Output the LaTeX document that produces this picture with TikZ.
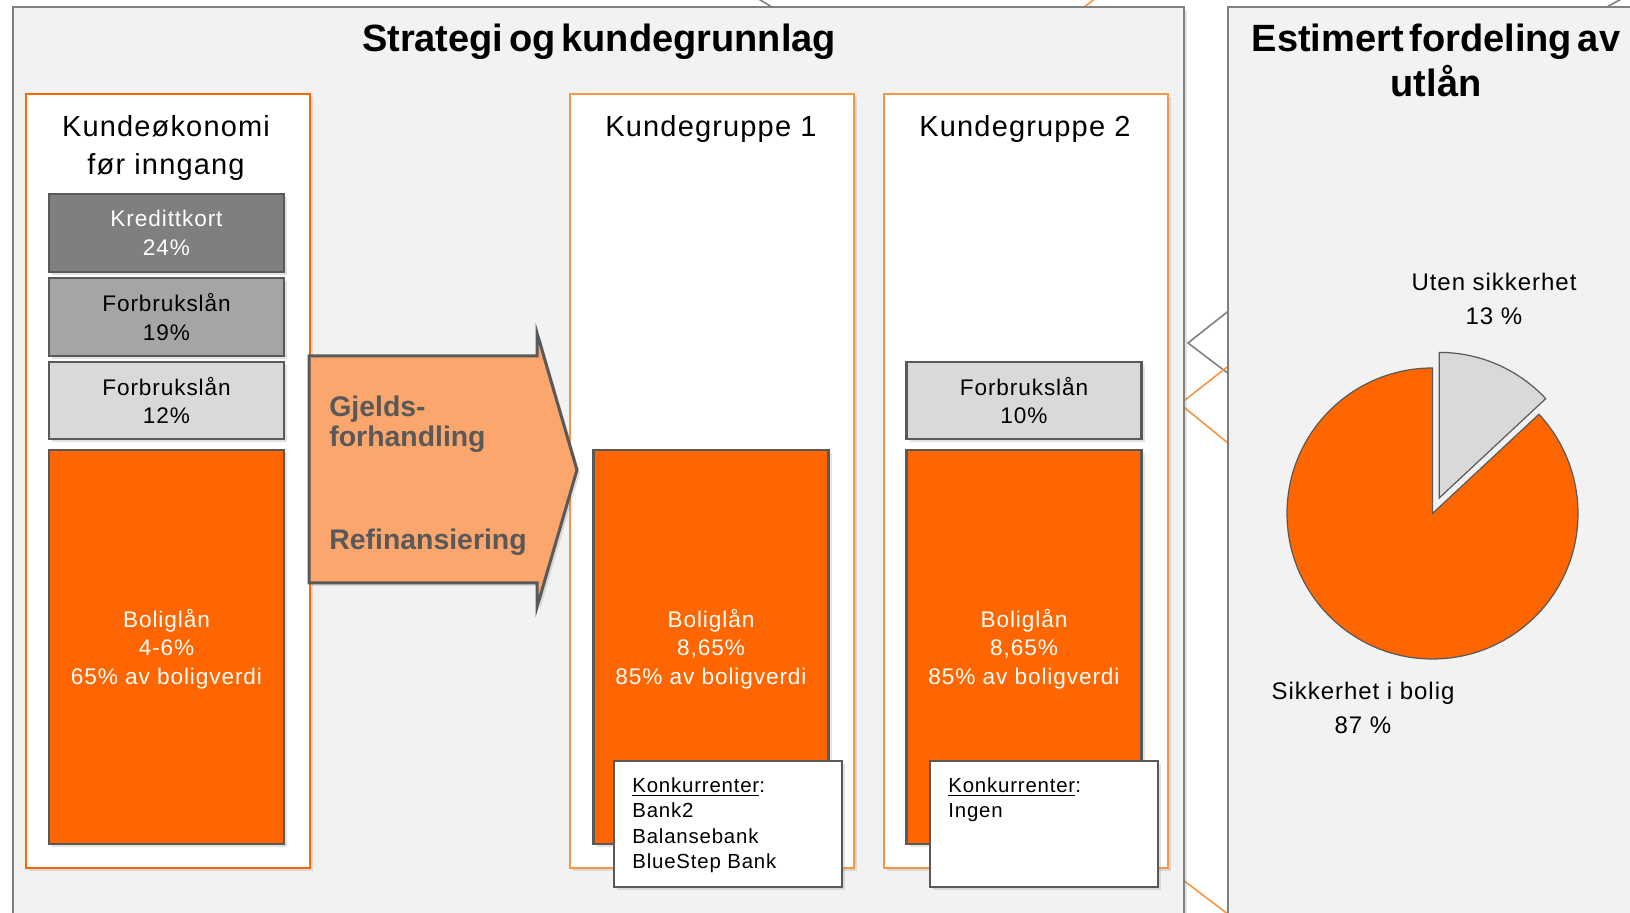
\documentclass[tikz,border=0pt]{standalone}
\usepackage{xcolor}
\usepackage{fontspec}
\setmainfont{Liberation Sans}
\newfontfamily\headfont[WordSpace=0.55]{Liberation Sans}
\newfontfamily\widefont[LetterSpace=4]{Liberation Sans}
\usepackage{tikz}
\usetikzlibrary{shadows}

\definecolor{panelfill}{HTML}{F2F2F2}
\definecolor{panelline}{HTML}{808080}
\definecolor{darkline}{HTML}{595959}
\definecolor{loanorange}{HTML}{FF6600}
\definecolor{lightorange}{HTML}{F79646}
\definecolor{arrowfill}{HTML}{FBA66C}
\definecolor{kortgray}{HTML}{7F7F7F}
\definecolor{midgray}{HTML}{A5A5A5}
\definecolor{palegray}{HTML}{D9D9D9}

\tikzset{
  softshadow/.style={drop shadow={shadow xshift=1.5pt,shadow yshift=-1.5pt,opacity=0.22}},
  panel/.style={draw=panelline,line width=1pt,fill=panelfill,softshadow},
  colbox/.style={draw=lightorange,line width=1pt,fill=white,minimum width=142pt,minimum height=387pt,inner sep=0pt,softshadow},
  loanbox/.style={draw=darkline,line width=1.1pt,minimum width=117.5pt,inner sep=0pt,align=center,font=\widefont\fontsize{11.3}{14.2}\selectfont,softshadow},
  konkbox/.style={draw=darkline,line width=1pt,fill=white,minimum width=114pt,minimum height=63pt,inner sep=0pt,softshadow},
  konktext/.style={anchor=north west,inner sep=0pt,align=left,font=\widefont\fontsize{10.2}{12.75}\selectfont},
  coltitle/.style={inner sep=0pt,align=center,font=\widefont\fontsize{14.5}{19}\selectfont},
  headline/.style={anchor=base,inner sep=0pt,font=\headfont\bfseries\fontsize{19}{22.5}\selectfont},
  steptext/.style={inner sep=0pt,align=left,text=darkline,font=\bfseries\fontsize{14.2}{15}\selectfont},
  pielabel/.style={anchor=north,inner sep=0pt,align=center,font=\widefont\fontsize{12}{16.75}\selectfont},
  pieslice/.style={draw=darkline,line width=0.6pt},
  bgline/.style={line width=0.8pt}
}

\begin{document}
\begin{tikzpicture}[x=0.5pt,y=-0.5pt]
\useasboundingbox (0,0) rectangle (1630,913);
\clip (0,0) rectangle (1630,913);
\fill[white] (0,0) rectangle (1630,913);
%Slide background lines
\draw[bgline,panelline] (752,-5) -- (790,18);
\draw[bgline,lightorange] (1100,-5) -- (1075,14);
\draw[bgline,panelline] (1605,8) -- (1625,-3);
\draw[bgline,panelline] (1250,294) -- (1188,343) -- (1250,390);
\draw[bgline,lightorange] (1250,349) -- (1180,404) -- (1250,461);
\draw[bgline,lightorange] (1170,870) -- (1250,931);
%Panels
\draw[panel] (12.5,7) rectangle (1184,950);
\draw[panel] (1228,7) rectangle (1680,950);
\node[headline] (title) at (599,52) {Strategi og kundegrunnlag};
\node[headline] (pietitle) at (1436,52) {Estimert fordeling av};
\node[headline] (pietitle2) at (1436,97) {utlån};
%Columns
\node[colbox,draw=loanorange] (col0) at (167.5,481) {};
\node[colbox] (col1) at (712,481) {};
\node[colbox] (col2) at (1026,481) {};
\node[coltitle,anchor=north] (head0) at (166,115.5) {Kundeøkonomi\\før inngang};
\node[coltitle,anchor=base] (head1) at (711,137) {Kundegruppe 1};
\node[coltitle,anchor=base] (head2) at (1025,137) {Kundegruppe 2};
%Loans before
\node[loanbox,fill=kortgray,text=white,minimum height=39pt] (kort0) at (166.5,233) {Kredittkort\\24\%};
\node[loanbox,fill=midgray,minimum height=39pt] (forbruk19) at (166.5,317) {Forbrukslån\\19\%};
\node[loanbox,fill=palegray,minimum height=38.5pt] (forbruk12) at (166.5,400.5) {Forbrukslån\\12\%};
\node[loanbox,fill=loanorange,text=white,minimum height=197pt] (bolig0) at (166.5,647) {\rule{0pt}{11pt}Boliglån\\4-6\%\\65\% av boligverdi};
%Kundegruppe 1
\node[loanbox,fill=loanorange,text=white,minimum height=197pt] (bolig1) at (711,647) {\rule{0pt}{11pt}Boliglån\\8,65\%\\85\% av boligverdi};
%Kundegruppe 2
\node[loanbox,fill=palegray,minimum height=38.5pt] (forbruk10) at (1024,400.5) {Forbrukslån\\10\%};
\node[loanbox,fill=loanorange,text=white,minimum height=197pt] (bolig2) at (1024,647) {\rule{0pt}{11pt}Boliglån\\8,65\%\\85\% av boligverdi};
%Competitors
\node[konkbox] (konk1) at (728,824) {};
\node[konktext] (konk1txt) at (632,777) {\underline{Konkurrenter}:\\Bank2\\Balansebank\\BlueStep Bank};
\node[konkbox] (konk2) at (1043.5,824) {};
\node[konktext] (konk2txt) at (948,777) {\underline{Konkurrenter}:\\Ingen};
%Arrow
\draw[draw=darkline,line width=1.5pt,fill=arrowfill,line join=miter,softshadow] (309,356) -- (537,356) -- (537,333) -- (577,470) -- (537,607) -- (537,583) -- (309,583) -- cycle;
\node[steptext,anchor=north west] (gjeld) at (329,396) {Gjelds-\\forhandling};
\node[steptext,anchor=base west] (refin) at (329,550) {Refinansiering};
%Pie
\coordinate (piec) at (1432.5,513.5);
\coordinate (piecut) at (1439.3,497.9);
\filldraw[pieslice,fill=loanorange] (piec) -- ++(-90:145.5) arc[start angle=-90,end angle=-403,radius=145.5] -- cycle;
\filldraw[pieslice,fill=palegray] (piecut) -- ++(-90:145.5) arc[start angle=-90,end angle=-43,radius=145.5] -- cycle;
\node[pielabel] (utenlbl) at (1494,273) {Uten sikkerhet\\13 \%};
\node[pielabel] (medlbl) at (1363,682) {Sikkerhet i bolig\\87 \%};
\end{tikzpicture}
\end{document}
